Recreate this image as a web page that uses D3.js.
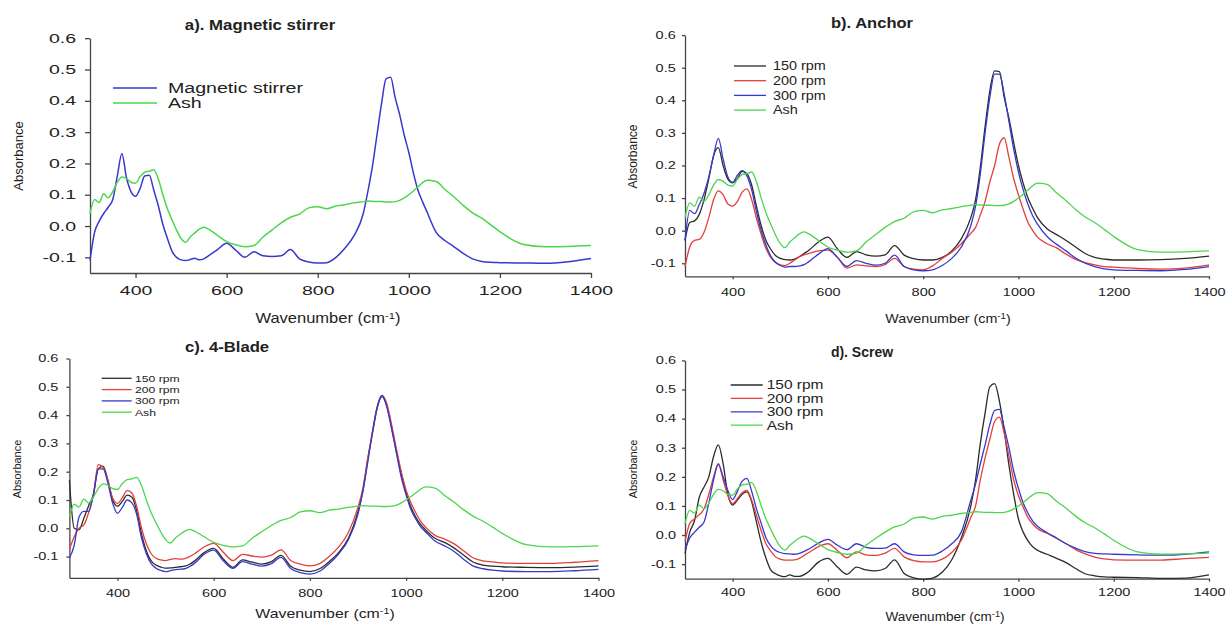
<!DOCTYPE html>
<html>
<head>
<meta charset="utf-8">
<script src="https://cdn.jsdelivr.net/npm/d3@7"></script>
<style>
  html, body { margin: 0; padding: 0; background: #fff; }
  svg { display: block; font-family: "Liberation Sans", Arial, sans-serif; }
</style>
</head>
<body>
<svg id="chart" width="1226" height="624"></svg>
<script>
/* jshint esversion: 6 */
(function(){
	///////////////////////////////////////////////////////////////////
	//// Data /////////////////////////////////////////////////////////
	///////////////////////////////////////////////////////////////////
	// wavenumber grid (cm-1) shared by every spectrum
	const wavenumber = [
		300, 310, 320, 330, 340, 350, 360, 370, 380, 390,
		400, 410, 420, 430, 440, 450, 460, 470, 480, 490,
		500, 510, 520, 530, 540, 550, 560,
		580, 600, 620, 640, 660, 680, 700, 720, 740, 760, 780, 800, 820, 840, 860, 880, 900,
		910, 920, 930, 940, 950, 960, 970, 980, 990, 1000, 1010, 1020, 1030, 1040,
		1060, 1080, 1100, 1120, 1140, 1160, 1180, 1200,
		1250, 1300, 1350, 1400
	];

	// Ash reference spectrum (same in all four panels)
	const ash = [
		0.04, 0.085, 0.075, 0.103, 0.09, 0.11, 0.14, 0.157, 0.152, 0.14,
		0.137, 0.158, 0.172, 0.175, 0.18, 0.15, 0.1, 0.055, 0.02, -0.013,
		-0.04, -0.052, -0.035, -0.022, -0.01, -0.004, -0.01,
		-0.03, -0.05, -0.06, -0.066, -0.062, -0.035, -0.012, 0.01, 0.028, 0.038, 0.058, 0.062, 0.055, 0.064, 0.068, 0.074, 0.078,
		0.08, 0.079, 0.078, 0.078, 0.077, 0.077, 0.078, 0.082, 0.09, 0.1, 0.112, 0.125, 0.138, 0.146,
		0.142, 0.116, 0.092, 0.065, 0.042, 0.025, 0.004, -0.018,
		-0.058, -0.066, -0.065, -0.062
	];

	// a). Magnetic stirrer
	const magneticStirrer = [
		-0.11, -0.02, 0.015, 0.04, 0.06, 0.085, 0.16, 0.232, 0.155, 0.11,
		0.095, 0.12, 0.16, 0.162, 0.115, 0.065, 0.005, -0.04, -0.08, -0.1,
		-0.108, -0.11, -0.107, -0.103, -0.108, -0.105, -0.095,
		-0.075, -0.055, -0.077, -0.1, -0.082, -0.095, -0.097, -0.095, -0.075, -0.105, -0.115, -0.118, -0.117, -0.1, -0.07, -0.03, 0.04,
		0.11, 0.19, 0.29, 0.39, 0.47, 0.475, 0.41, 0.355, 0.29, 0.235, 0.17, 0.115, 0.078, 0.045,
		-0.02, -0.047, -0.067, -0.088, -0.105, -0.113, -0.116, -0.117,
		-0.118, -0.119, -0.114, -0.104
	];

	// b). Anchor
	const anchor150 = [
		-0.03, 0.025, 0.03, 0.05, 0.095, 0.16, 0.23, 0.255, 0.2, 0.158,
		0.147, 0.16, 0.182, 0.175, 0.14, 0.075, 0.015, -0.03, -0.057, -0.076,
		-0.085, -0.089, -0.09, -0.087, -0.08, -0.07, -0.06,
		-0.035, -0.02, -0.056, -0.082, -0.064, -0.074, -0.078, -0.074, -0.046, -0.075, -0.086, -0.09, -0.09, -0.082, -0.062, -0.025, 0.04,
		0.095, 0.195, 0.32, 0.43, 0.49, 0.488, 0.41, 0.345, 0.27, 0.2, 0.145, 0.1, 0.068, 0.04,
		0.006, -0.012, -0.03, -0.05, -0.07, -0.082, -0.087, -0.09,
		-0.09, -0.089, -0.085, -0.078
	];
	const anchor200 = [
		-0.11, -0.05, -0.03, -0.027, -0.005, 0.04, 0.095, 0.122, 0.11, 0.082,
		0.075, 0.09, 0.118, 0.128, 0.095, 0.038, -0.012, -0.055, -0.082, -0.098,
		-0.105, -0.107, -0.1, -0.09, -0.08, -0.074, -0.07,
		-0.062, -0.06, -0.082, -0.115, -0.105, -0.108, -0.11, -0.104, -0.085, -0.11, -0.118, -0.12, -0.108, -0.085, -0.066, -0.04, -0.008,
		0.01, 0.048, 0.09, 0.15, 0.2, 0.265, 0.285, 0.225, 0.16, 0.11, 0.065, 0.025, 0.0, -0.02,
		-0.04, -0.053, -0.072, -0.088, -0.098, -0.105, -0.11, -0.112,
		-0.116, -0.118, -0.115, -0.105
	];
	const anchor300 = [
		-0.03, 0.062, 0.052, 0.08, 0.115, 0.165, 0.23, 0.283, 0.22, 0.165,
		0.148, 0.17, 0.184, 0.168, 0.125, 0.058, 0.0, -0.045, -0.078, -0.097,
		-0.107, -0.112, -0.11, -0.11, -0.108, -0.104, -0.095,
		-0.072, -0.055, -0.082, -0.11, -0.092, -0.1, -0.106, -0.1, -0.075, -0.11, -0.12, -0.123, -0.12, -0.107, -0.085, -0.05, 0.015,
		0.075, 0.175, 0.3, 0.41, 0.48, 0.48, 0.42, 0.335, 0.25, 0.18, 0.125, 0.08, 0.045, 0.02,
		-0.018, -0.042, -0.062, -0.084, -0.1, -0.11, -0.117, -0.12,
		-0.122, -0.123, -0.119, -0.11
	];

	// c). 4-Blade
	const blade150 = [
		0.17, 0.0, -0.005, 0.035, 0.08, 0.12, 0.21, 0.22, 0.17, 0.1,
		0.078, 0.095, 0.117, 0.11, 0.062, -0.02, -0.08, -0.115, -0.13, -0.137,
		-0.141, -0.14, -0.138, -0.136, -0.134, -0.127, -0.116,
		-0.086, -0.071, -0.108, -0.138, -0.112, -0.12, -0.127, -0.118, -0.096, -0.134, -0.148, -0.153, -0.143, -0.118, -0.085, -0.035, 0.06,
		0.13, 0.24, 0.335, 0.425, 0.465, 0.43, 0.355, 0.27, 0.19, 0.125, 0.075, 0.04, 0.014, -0.005,
		-0.035, -0.05, -0.07, -0.095, -0.12, -0.13, -0.134, -0.136,
		-0.138, -0.139, -0.137, -0.133
	];
	const blade200 = [
		-0.076, -0.03, 0.0, 0.012, 0.055, 0.12, 0.225, 0.215, 0.17, 0.106,
		0.088, 0.108, 0.133, 0.125, 0.076, 0.0, -0.055, -0.09, -0.106, -0.112,
		-0.114, -0.11, -0.107, -0.109, -0.107, -0.1, -0.09,
		-0.066, -0.053, -0.085, -0.114, -0.092, -0.098, -0.102, -0.095, -0.076, -0.114, -0.127, -0.133, -0.125, -0.1, -0.066, -0.015, 0.075,
		0.14, 0.245, 0.34, 0.43, 0.47, 0.44, 0.365, 0.28, 0.2, 0.135, 0.09, 0.055, 0.025, 0.005,
		-0.025, -0.038, -0.055, -0.08, -0.105, -0.115, -0.119, -0.122,
		-0.124, -0.124, -0.12, -0.114
	];
	const blade300 = [
		-0.105, -0.06, 0.04, 0.06, 0.06, 0.12, 0.21, 0.21, 0.16, 0.088,
		0.053, 0.074, 0.1, 0.09, 0.048, -0.035, -0.09, -0.125, -0.141, -0.149,
		-0.153, -0.15, -0.146, -0.145, -0.143, -0.135, -0.124,
		-0.092, -0.077, -0.115, -0.142, -0.118, -0.127, -0.134, -0.125, -0.103, -0.142, -0.157, -0.162, -0.152, -0.125, -0.09, -0.04, 0.05,
		0.13, 0.23, 0.34, 0.43, 0.47, 0.43, 0.35, 0.265, 0.18, 0.118, 0.066, 0.033, 0.006, -0.012,
		-0.045, -0.062, -0.082, -0.11, -0.134, -0.143, -0.148, -0.151,
		-0.153, -0.153, -0.15, -0.145
	];

	// d). Screw
	const screw150 = [
		-0.063, 0.01, 0.05, 0.13, 0.165, 0.2, 0.27, 0.31, 0.245, 0.14,
		0.103, 0.12, 0.14, 0.148, 0.114, 0.045, -0.025, -0.08, -0.12, -0.133,
		-0.14, -0.143, -0.137, -0.142, -0.142, -0.136, -0.125,
		-0.093, -0.08, -0.11, -0.135, -0.11, -0.12, -0.123, -0.115, -0.085, -0.132, -0.147, -0.152, -0.148, -0.128, -0.085, -0.01, 0.1,
		0.19, 0.315, 0.42, 0.51, 0.52, 0.46, 0.36, 0.24, 0.14, 0.055, 0.01, -0.02, -0.04, -0.052,
		-0.066, -0.08, -0.095, -0.115, -0.133, -0.14, -0.144, -0.145,
		-0.146, -0.149, -0.148, -0.137
	];
	const screw200 = [
		-0.023, 0.04, 0.055, 0.07, 0.09, 0.14, 0.2, 0.245, 0.19, 0.135,
		0.108, 0.125, 0.145, 0.153, 0.12, 0.067, 0.015, -0.03, -0.055, -0.075,
		-0.083, -0.086, -0.086, -0.085, -0.08, -0.07, -0.06,
		-0.04, -0.03, -0.053, -0.078, -0.058, -0.068, -0.07, -0.062, -0.046, -0.075, -0.088, -0.092, -0.092, -0.083, -0.06, -0.018, 0.06,
		0.1, 0.19, 0.265, 0.33, 0.39, 0.405, 0.35, 0.27, 0.19, 0.135, 0.095, 0.06, 0.038, 0.022,
		0.006, -0.012, -0.03, -0.05, -0.065, -0.076, -0.082, -0.085,
		-0.086, -0.086, -0.081, -0.077
	];
	const screw300 = [
		-0.05, -0.01, 0.01, 0.027, 0.045, 0.11, 0.19, 0.243, 0.2, 0.153,
		0.122, 0.15, 0.185, 0.195, 0.15, 0.09, 0.04, -0.01, -0.037, -0.053,
		-0.06, -0.064, -0.065, -0.066, -0.063, -0.056, -0.048,
		-0.028, -0.015, -0.035, -0.05, -0.03, -0.042, -0.046, -0.045, -0.03, -0.058, -0.068, -0.07, -0.069, -0.055, -0.03, 0.01, 0.12,
		0.175, 0.245, 0.31, 0.38, 0.428, 0.432, 0.37, 0.3, 0.22, 0.16, 0.11, 0.075, 0.048, 0.03,
		0.008, -0.01, -0.03, -0.045, -0.057, -0.063, -0.065, -0.066,
		-0.068, -0.069, -0.066, -0.058
	];

	// Labels and ticks
	const titles = ["a). Magnetic stirrer", "b). Anchor", "c). 4-Blade", "d). Screw"];
	const legendA = ["Magnetic stirrer", "Ash"];
	const legendRpm = ["150 rpm", "200 rpm", "300 rpm", "Ash"];
	const xTicks = [400, 600, 800, 1000, 1200, 1400];
	const yTicks = [-0.1, 0.0, 0.1, 0.2, 0.3, 0.4, 0.5, 0.6];
	const xDomain = [300, 1400];

	///////////////////////////////////////////////////////////////////
	//// Styles / layout //////////////////////////////////////////////
	///////////////////////////////////////////////////////////////////
	const BLACK = "#2b2b2b", RED = "#e2403c", BLUE = "#3838cc", GREEN = "#4cd64c";
	const AXIS = "#444";

	const rpmSeries = (a, b, c) => [
		{name: legendRpm[0], values: a, color: BLACK},
		{name: legendRpm[1], values: b, color: RED},
		{name: legendRpm[2], values: c, color: BLUE},
		{name: legendRpm[3], values: ash, color: GREEN}
	];

	const panels = [
		{
			title: titles[0],
			series: [{name: legendA[0], values: magneticStirrer, color: BLUE}, {name: legendA[1], values: ash, color: GREEN}],
			x: [90, 591], y: [273, 38.2], yMin: -0.15, stroke: 1.5,
			tick: {size: 13, sx: 1.5, len: 5, padY: 9, padX: 7.5},
			titleAt: {x: 260, y: 30, size: 14.5, sx: 1.16},
			yLab: {x: 18, y: 156, size: 13},
			xLab: {x: 328, y: 323, size: 14, sx: 1.18},
			legend: {x0: 113, x1: 157, tx: 168, y: 88, dy: 15, size: 14, sx: 1.4}
		},
		{
			title: titles[1],
			series: rpmSeries(anchor150, anchor200, anchor300),
			x: [685, 1209], y: [276.3, 35.1], yMin: -0.14, stroke: 1.3,
			tick: {size: 10.5, sx: 1.38, len: 3, padY: 6.3, padX: 9.7},
			titleAt: {x: 872, y: 28, size: 14.5, sx: 1.14},
			yLab: {x: 633, y: 156.5, size: 12},
			xLab: {x: 948, y: 322.5, size: 12, sx: 1.19},
			legend: {x0: 734, x1: 766, tx: 773, y: 66, dy: 14.7, size: 12, sx: 1.2}
		},
		{
			title: titles[2],
			series: rpmSeries(blade150, blade200, blade300),
			x: [69.4, 598.5], y: [577.8, 358.5], yMin: -0.175, stroke: 1.3,
			tick: {size: 10.5, sx: 1.38, len: 3, padY: 8, padX: 8.7},
			titleAt: {x: 227, y: 352, size: 14.5, sx: 1.15},
			yLab: {x: 17, y: 469, size: 11},
			xLab: {x: 325, y: 618, size: 13, sx: 1.22},
			legend: {x0: 101.7, x1: 131.7, tx: 135, y: 378.3, dy: 11.3, size: 9.5, sx: 1.28}
		},
		{
			title: titles[3],
			series: rpmSeries(screw150, screw200, screw300),
			x: [685, 1209], y: [578.7, 360.4], yMin: -0.15, stroke: 1.3,
			tick: {size: 10.5, sx: 1.38, len: 3, padY: 6, padX: 7.3},
			titleAt: {x: 862, y: 357, size: 14, sx: 1.0},
			yLab: {x: 633, y: 469, size: 11},
			xLab: {x: 945, y: 620.5, size: 12, sx: 1.13},
			legend: {x0: 730.7, x1: 762.7, tx: 766.7, y: 385, dy: 13.4, size: 12, sx: 1.29}
		}
	];

	const svg = d3.select("#chart");

	// horizontally stretch a text around its anchor point
	function stretch(sel, sx) {
		sel.each(function() {
			const t = d3.select(this);
			const x0 = +t.attr("x") || 0;
			t.attr("transform", `translate(${x0 * (1 - sx)},0) scale(${sx},1)`);
		});
	}

	function label(g, x, y, sx) {
		return g.append("text")
				.attr("transform", `translate(${x},${y}) scale(${sx},1)`)
				.style("fill", "#222");
	}

	///////////////////////////////////////////////////////////////////
	//// Panels ///////////////////////////////////////////////////////
	///////////////////////////////////////////////////////////////////
	panels.forEach(p => {
		const g = svg.append("g");

		const x = d3.scaleLinear().domain(xDomain).range(p.x);
		const y = d3.scaleLinear().domain([p.yMin, 0.6]).range(p.y);

		const line = d3.line()
				.x((d, i) => x(wavenumber[i]))
				.y(d => y(d))
				.curve(d3.curveMonotoneX);

		// axes
		const xAxis = g.append("g")
				.attr("transform", `translate(0,${p.y[0]})`)
				.call(d3.axisBottom(x)
					.tickValues(xTicks)
					.tickFormat(d3.format("d"))
					.tickSize(p.tick.len)
					.tickSizeOuter(0)
					.tickPadding(p.tick.padX));

		const yAxis = g.append("g")
				.attr("transform", `translate(${p.x[0]},0)`)
				.call(d3.axisLeft(y)
					.tickValues(yTicks)
					.tickFormat(d => d.toFixed(1))
					.tickSize(p.tick.len)
					.tickSizeOuter(0)
					.tickPadding(p.tick.padY));

		[xAxis, yAxis].forEach(a => {
			a.selectAll("path, line")
					.style("stroke", AXIS)
					.style("stroke-width", 1.3);
			a.selectAll("text")
					.style("font-family", "'Liberation Sans', Arial, sans-serif")
					.style("font-size", p.tick.size + "px")
					.style("fill", "#222")
					.call(stretch, p.tick.sx);
		});

		// spectra
		g.selectAll(".line")
			.data(p.series)
			.enter().append("path")
				.attr("class", "line")
				.attr("d", d => line(d.values))
				.style("fill", "none")
				.style("stroke", d => d.color)
				.style("stroke-width", p.stroke)
				.style("stroke-linejoin", "round");

		// title
		label(g, p.titleAt.x, p.titleAt.y, p.titleAt.sx)
				.attr("text-anchor", "middle")
				.style("font-size", p.titleAt.size + "px")
				.style("font-weight", "bold")
				.text(p.title);

		// y label
		g.append("text")
				.attr("transform", `translate(${p.yLab.x},${p.yLab.y}) rotate(-90)`)
				.attr("text-anchor", "middle")
				.attr("dy", "0.35em")
				.style("font-size", p.yLab.size + "px")
				.style("fill", "#222")
				.text("Absorbance");

		// x label
		const xl = label(g, p.xLab.x, p.xLab.y, p.xLab.sx)
				.attr("text-anchor", "middle")
				.style("font-size", p.xLab.size + "px");
		xl.append("tspan").text("Wavenumber (cm");
		xl.append("tspan").attr("dy", "-0.45em").style("font-size", "0.68em").text("-1");
		xl.append("tspan").attr("dy", "0.31em").text(")");

		// legend
		const lg = g.append("g").attr("class", "legend");
		p.series.forEach((s, i) => {
			const ly = p.legend.y + i * p.legend.dy;
			lg.append("line")
					.attr("x1", p.legend.x0)
					.attr("x2", p.legend.x1)
					.attr("y1", ly)
					.attr("y2", ly)
					.style("stroke", s.color)
					.style("stroke-width", 1.3);
			label(lg, p.legend.tx, ly, p.legend.sx)
					.attr("dy", "0.36em")
					.style("font-size", p.legend.size + "px")
					.text(s.name);
		});
	});
}());
</script>
</body>
</html>
